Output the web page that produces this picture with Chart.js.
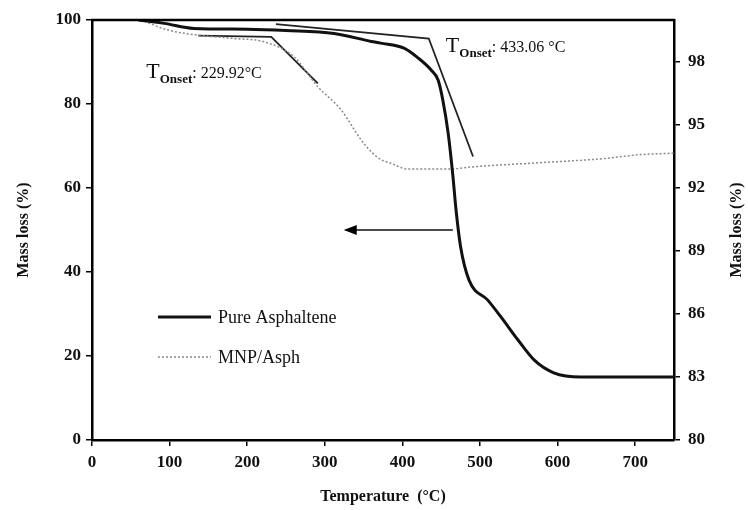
<!DOCTYPE html>
<html>
<head>
<meta charset="utf-8">
<script src="https://cdn.jsdelivr.net/npm/chart.js"></script>
<style>
  html, body { margin: 0; padding: 0; background: #fff; }
  #wrap { width: 748px; height: 510px; }
</style>
</head>
<body>
<div id="wrap"><canvas id="tga"></canvas></div>
<script>
// ---- data ----
const pureTemp = [60, 93, 131, 200, 250, 312, 360, 372, 402, 420, 437, 446, 452, 459, 465, 469, 475, 486, 510, 527, 549, 570, 595, 630, 700, 750];
const pureMass = [100, 99.2, 98.0, 97.8, 97.5, 96.8, 94.9, 94.5, 93.3, 91.0, 88.1, 85.7, 81, 73, 63, 55, 46, 38, 33.3, 29.3, 23.8, 19, 16, 15, 15, 15];

// MNP/Asph is read on the right axis
const mnpTemp = [63, 98, 137, 183, 222, 260, 291, 321, 347, 360, 372, 385, 407, 463, 488, 575, 660, 704, 750];
const mnpMass = [100, 99.52, 99.28, 99.12, 98.96, 98.26, 96.82, 95.72, 94.28, 93.72, 93.36, 93.18, 92.9, 92.9, 93.0, 93.2, 93.4, 93.58, 93.66];

// onset tangents
const onsetMnpTemp = [137, 231, 291];
const onsetMnpMass = [99.26, 99.2, 96.98];
const onsetPureTemp = [237, 434, 491];
const onsetPureMass = [99.0, 95.6, 67.5];

// arrow pointing at the left axis
const arrowTemp = [465, 327];
const arrowMass = [50, 50];

const xTicks = [0, 100, 200, 300, 400, 500, 600, 700];
const leftTicks = [0, 20, 40, 60, 80, 100];
const rightTicks = [80, 83, 86, 89, 92, 95, 98];

const onsetLabels = [
  { temp: 70, mass: 86.2, value: ": 229.92\u00B0C" },
  { temp: 456, mass: 92.4, value: ": 433.06 \u00B0C" }
];

const serif = "'Liberation Serif', 'DejaVu Serif', serif";

function pts(xs, ys) { return xs.map((x, i) => ({ x: x, y: ys[i] })); }

// frame top, right title, legend, onset texts, arrow head
const extras = {
  id: "extras",
  afterDraw(chart) {
    const ctx = chart.ctx;
    const a = chart.chartArea;
    const sx = chart.scales.x, sy = chart.scales.y;
    ctx.save();
    // top border of the box
    ctx.strokeStyle = "#000";
    ctx.lineWidth = 2.5;
    ctx.beginPath();
    ctx.moveTo(a.left - 1, a.top);
    ctx.lineTo(a.right + 1, a.top);
    ctx.stroke();

    // arrow head
    const hx = sx.getPixelForValue(arrowTemp[1]);
    const hy = sy.getPixelForValue(arrowMass[1]);
    ctx.fillStyle = "#000";
    ctx.beginPath();
    ctx.moveTo(hx - 2, hy);
    ctx.lineTo(hx + 11, hy - 5);
    ctx.lineTo(hx + 11, hy + 5);
    ctx.closePath();
    ctx.fill();

    // onset labels
    ctx.fillStyle = "#111";
    ctx.textBaseline = "alphabetic";
    onsetLabels.forEach(l => {
      let x = sx.getPixelForValue(l.temp);
      const y = sy.getPixelForValue(l.mass);
      ctx.font = "22px " + serif;
      ctx.fillText("T", x, y);
      x += ctx.measureText("T").width;
      ctx.font = "bold 13px " + serif;
      ctx.fillText("Onset", x, y + 5);
      x += ctx.measureText("Onset").width;
      ctx.font = "16px " + serif;
      ctx.fillText(l.value, x, y);
    });

    // legend
    const items = [chart.data.datasets[0], chart.data.datasets[1]];
    items.forEach((ds, i) => {
      const y = a.top + 297 + i * 40;
      ctx.strokeStyle = ds.borderColor;
      ctx.lineWidth = ds.borderWidth;
      ctx.setLineDash(ds.borderDash || []);
      ctx.beginPath();
      ctx.moveTo(158, y);
      ctx.lineTo(211, y);
      ctx.stroke();
      ctx.setLineDash([]);
      ctx.fillStyle = "#111";
      ctx.font = "18px " + serif;
      ctx.textBaseline = "middle";
      ctx.fillText(ds.label, 218, y + 1);
    });

    // right axis title, reads bottom to top like the left one
    ctx.translate(737, (a.top + a.bottom) / 2);
    ctx.rotate(-Math.PI / 2);
    ctx.textAlign = "center";
    ctx.textBaseline = "middle";
    ctx.font = "bold 16px " + serif;
    ctx.fillText("Mass loss (%)", 0, 0);
    ctx.restore();
  }
};

const tickFont = { family: serif, size: 17, weight: "bold" };

new Chart(document.getElementById("tga"), {
  type: "line",
  data: {
    datasets: [
      { label: "Pure Asphaltene", data: pts(pureTemp, pureMass), yAxisID: "y",
        borderColor: "#111", borderWidth: 3, pointRadius: 0, cubicInterpolationMode: "monotone" },
      { label: "MNP/Asph", data: pts(mnpTemp, mnpMass), yAxisID: "y2",
        borderColor: "#8a8a8a", borderWidth: 1.5, borderDash: [2, 2], pointRadius: 0, cubicInterpolationMode: "monotone" },
      { label: "onset MNP", data: pts(onsetMnpTemp, onsetMnpMass), yAxisID: "y2",
        borderColor: "#222", borderWidth: 1.8, pointRadius: 0, tension: 0 },
      { label: "onset pure", data: pts(onsetPureTemp, onsetPureMass), yAxisID: "y",
        borderColor: "#222", borderWidth: 1.8, pointRadius: 0, tension: 0 },
      { label: "arrow", data: pts(arrowTemp, arrowMass), yAxisID: "y",
        borderColor: "#111", borderWidth: 1.5, pointRadius: 0, tension: 0 }
    ]
  },
  options: {
    responsive: true,
    maintainAspectRatio: false,
    animation: false,
    layout: { padding: { top: 20, left: 0, right: 0, bottom: 0 } },
    plugins: { legend: { display: false }, tooltip: { enabled: false } },
    scales: {
      x: {
        type: "linear", min: 0, max: 750,
        afterBuildTicks: s => { s.ticks = xTicks.map(v => ({ value: v })); },
        afterFit: s => { s.height = 70; },
        ticks: { font: tickFont, color: "#111", padding: 6, maxRotation: 0 },
        grid: { drawOnChartArea: false, tickLength: 6, color: "#000", lineWidth: 1.5 },
        border: { color: "#000", width: 2.5 },
        title: { display: true, text: "Temperature  (\u00B0C)", color: "#111",
                 font: { family: serif, size: 16, weight: "bold" }, padding: { top: 6 } }
      },
      y: {
        position: "left", min: 0, max: 100,
        afterBuildTicks: s => { s.ticks = leftTicks.map(v => ({ value: v })); },
        afterFit: s => { s.width = 92; },
        ticks: { font: tickFont, color: "#111", padding: 5 },
        grid: { drawOnChartArea: false, tickLength: 6, color: "#000", lineWidth: 1.5 },
        border: { color: "#000", width: 2.5 },
        title: { display: true, text: "Mass loss (%)", color: "#111",
                 font: { family: serif, size: 16, weight: "bold" }, padding: { top: 14 } }
      },
      y2: {
        position: "right", min: 80, max: 100,
        afterBuildTicks: s => { s.ticks = rightTicks.map(v => ({ value: v })); },
        afterFit: s => { s.width = 74; },
        ticks: { font: tickFont, color: "#111", padding: 8 },
        grid: { drawOnChartArea: false, tickLength: 6, color: "#000", lineWidth: 1.5 },
        border: { color: "#000", width: 2.5 }
      }
    }
  },
  plugins: [extras]
});
</script>
</body>
</html>
